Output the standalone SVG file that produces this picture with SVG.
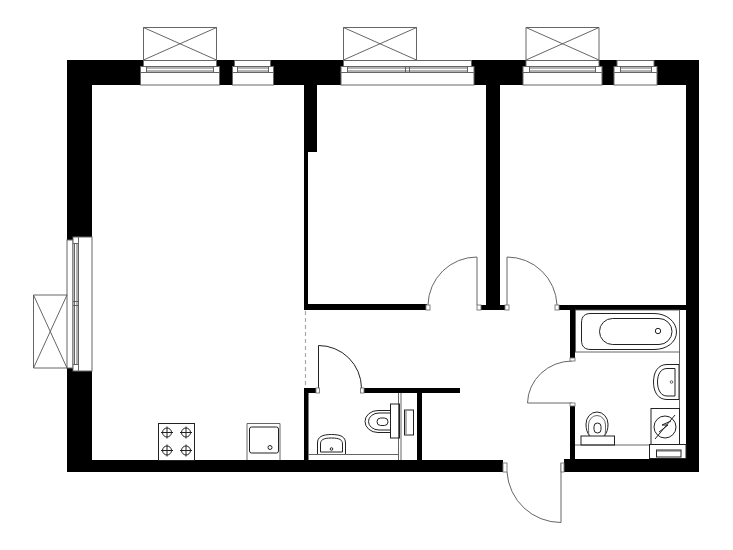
<svg xmlns="http://www.w3.org/2000/svg" width="733" height="550" viewBox="0 0 733 550">
<style>
.w{fill:#000;stroke:none}
.o{fill:#fff;stroke:#666;stroke-width:1}
.l{fill:none;stroke:#555;stroke-width:.9}
.f{fill:#fff;stroke:#777;stroke-width:.9}
.d{fill:none;stroke:#666;stroke-width:1}
.g{fill:none;stroke:#aaa;stroke-width:1.200;stroke-dasharray:4 3}
.e{fill:none;stroke:#222;stroke-width:1}
</style>
<rect width="733" height="550" fill="#fff"/>
<g id="walls">
<path class="w" d="M67 60H699V472H564V459H686V85H500V305H506V310H481V305H486V85H317V152H308V304H427V310H304V85H92V460H304V388H316V393H308.500V460H417V393H364V388H460V393H422V460H503V472H67Z"/>
<path class="w" d="M559 305H686V310H575V358H570V310H559Z"/>
<path class="w" d="M570 406H575V460H570Z"/>
</g>
<g id="window-1">
<rect class="o" x="143.500" y="60.500" width="73" height="6"/>
<rect class="o" x="140.500" y="72" width="79" height="13"/>
<rect class="o" x="140.500" y="66.500" width="79" height="6"/>
<path class="l" d="M146.500 66.500V72.500M213.500 66.500V72.500M146.500 68H213.500M146.500 71H213.500"/>
<path class="l" d="M143.500 60V27.500H216.500V60M143.500 60L216.500 27.500M143.500 27.500L216.500 60"/>
</g>
<g id="window-2">
<rect class="o" x="234.500" y="60.500" width="36" height="6"/>
<rect class="o" x="232.500" y="72" width="41" height="13"/>
<rect class="o" x="232.500" y="66.500" width="41" height="6"/>
<path class="l" d="M237.500 66.500V72.500M268.500 66.500V72.500M237.500 68H268.500M237.500 71H268.500"/>
</g>
<g id="window-3">
<rect class="o" x="343.500" y="60.500" width="128" height="6"/>
<rect class="o" x="341" y="72" width="133" height="13"/>
<rect class="o" x="341" y="66.500" width="133" height="6"/>
<path class="l" d="M347.500 66.500V72.500M467.500 66.500V72.500M405.500 66.500V72.500M409.500 66.500V72.500M347.500 68H467.500M347.500 71H467.500"/>
<path class="l" d="M343.500 60V27.500H416.500V60M343.500 60L416.500 27.500M343.500 27.500L416.500 60"/>
</g>
<g id="window-4">
<rect class="o" x="526" y="60.500" width="73" height="6"/>
<rect class="o" x="523" y="72" width="79" height="13"/>
<rect class="o" x="523" y="66.500" width="79" height="6"/>
<path class="l" d="M529.500 66.500V72.500M595.500 66.500V72.500M529.500 68H595.500M529.500 71H595.500"/>
<path class="l" d="M526 60V27.500H599V60M526 60L599 27.500M526 27.500L599 60"/>
</g>
<g id="window-5">
<rect class="o" x="617" y="60.500" width="37" height="6"/>
<rect class="o" x="614" y="72" width="43" height="13"/>
<rect class="o" x="614" y="66.500" width="43" height="6"/>
<path class="l" d="M620.500 66.500V72.500M651.500 66.500V72.500M620.500 68H651.500M620.500 71H651.500"/>
</g>
<g id="window-left">
<rect class="o" x="67" y="240" width="6" height="128"/>
<rect class="o" x="78.500" y="237" width="13.500" height="134"/>
<rect class="o" x="73" y="237" width="5.500" height="134"/>
<path class="l" d="M73 243.500H78.500M73 364.500H78.500M73 301.500H78.500M73 305.500H78.500M74.500 243.500V364.500M77 243.500V364.500"/>
<path class="l" d="M67 295H33.500V368H67M67 295L33.500 368M33.500 295L67 368"/>
</g>
<g id="partition-dashed"><path class="g" d="M305.500 311V388"/></g>
<g id="door-room-2">
<path class="d" d="M477 305V257A49 49 0 0 0 428 305"/>
<rect class="f" x="426" y="305" width="4" height="5"/>
<rect class="f" x="477" y="305" width="4" height="5"/>
</g>
<g id="door-room-3">
<path class="d" d="M507 305V257A50 50 0 0 1 557 305"/>
<rect class="f" x="505" y="305" width="4" height="5"/>
<rect class="f" x="555" y="305" width="4" height="5"/>
</g>
<g id="door-wc">
<path class="e" d="M318.500 388V345.500A43 43 0 0 1 361.500 388"/>
<rect class="f" x="316" y="388" width="3.500" height="5"/>
<rect class="f" x="360.500" y="388" width="3.500" height="5"/>
</g>
<g id="door-bath">
<path class="d" d="M572 361A45 43 0 0 0 527.500 403H572"/>
<rect class="f" x="570" y="358" width="5" height="3"/>
<rect class="f" x="570" y="403" width="5" height="3"/>
</g>
<g id="door-entry">
<path class="d" d="M561 463V522.500A54 54 0 0 1 507 472"/>
<rect class="f" x="503" y="463" width="4" height="9"/>
<rect class="f" x="561" y="463" width="3" height="9"/>
</g>
<g id="stove">
<rect class="e" x="158.500" y="423.500" width="36" height="37"/>
<g class="e">
<circle cx="167" cy="432.500" r="4.500"/><path d="M167 426.500V438.500M161 432.500H173"/>
<circle cx="186" cy="432.500" r="4.500"/><path d="M186 426.500V438.500M180 432.500H192"/>
<circle cx="167" cy="450.500" r="4.500"/><path d="M167 444.500V456.500M161 450.500H173"/>
<circle cx="186" cy="450.500" r="4.500"/><path d="M186 444.500V456.500M180 450.500H192"/>
</g>
</g>
<g id="kitchen-sink">
<path class="l" d="M247 460V423.500H280V460"/>
<rect class="e" x="249.500" y="427" width="29" height="26" rx="2"/>
<circle class="e" cx="270" cy="447.500" r="2"/>
</g>
<g id="wc-room">
<path class="l" d="M398.500 393V460M401 393V460M308.500 454.500H398.500"/>
<rect class="e" x="390.500" y="404" width="9" height="34"/>
<path class="e" d="M390.500 410.500H378A13 11 0 0 0 378 432.500H390.500"/>
<path class="e" d="M390.500 413H379A10.500 8.500 0 0 0 379 430H390.500"/>
<rect class="e" x="377" y="418" width="11" height="7.500" rx="3.700"/>
<rect class="e" x="404.500" y="410" width="9" height="25"/>
<path class="l" d="M406 411V434"/>
<path class="e" d="M317.500 454V443C317.500 437 322 434.500 331.500 434.500S345.500 437 345.500 443V454"/>
<path class="e" d="M320.500 452V444C320.500 440 323 438 331.500 438S342.500 440 342.500 444V452Z"/>
<circle class="e" cx="331.500" cy="449" r="1.300"/>
</g>
<g id="bath">
<rect class="l" x="575.500" y="310" width="104" height="42"/>
<path class="e" d="M581.500 323C581.500 316 585 313.500 591 313.500H654C667 313.500 676.500 322 676.500 332S667 349.500 654 349.500H591C585 349.500 581.500 347 581.500 340Z"/>
<rect class="e" x="599.500" y="318.500" width="72.500" height="26" rx="13"/>
<circle class="e" cx="658" cy="331" r="2.700"/>
</g>
<g id="bath-sink">
<path class="e" d="M679 364.500H667C658 364.500 653.500 372 653.500 382S658 399.500 667 399.500H679Z"/>
<path class="e" d="M675 368.500H667C661 368.500 657.500 374 657.500 382S661 396 667 396H675Z"/>
<path class="l" d="M679.500 352V408"/>
<circle class="l" cx="671.500" cy="382" r="1.300"/>
</g>
<g id="washer">
<rect class="e" x="651" y="408.500" width="28.500" height="36"/>
<circle class="e" cx="665" cy="427" r="11"/>
<path class="e" d="M655 439L675 415"/>
<path class="e" d="M659 432L668 425H662L671 421"/>
</g>
<g id="bath-wc">
<path class="l" d="M575 445H650"/>
<rect class="e" x="581" y="436" width="33.500" height="9"/>
<path class="e" d="M590 436C587 433 586 429 586 424A11 12 0 0 1 608 424C608 429 607 433 604 436"/>
<rect class="e" x="594" y="423" width="7" height="10" rx="3.500"/>
<path class="l" d="M589 436C588.500 433 588.500 429 588.500 425A8.500 9.500 0 0 1 605.500 425C605.500 429 605.500 433 605 436"/>
</g>
<g id="utility-box">
<rect class="e" x="649.500" y="444.500" width="36.500" height="14"/>
<rect class="e" x="656.500" y="450" width="24.500" height="7"/>
<path class="l" d="M656.500 451H681"/>
</g>
</svg>
